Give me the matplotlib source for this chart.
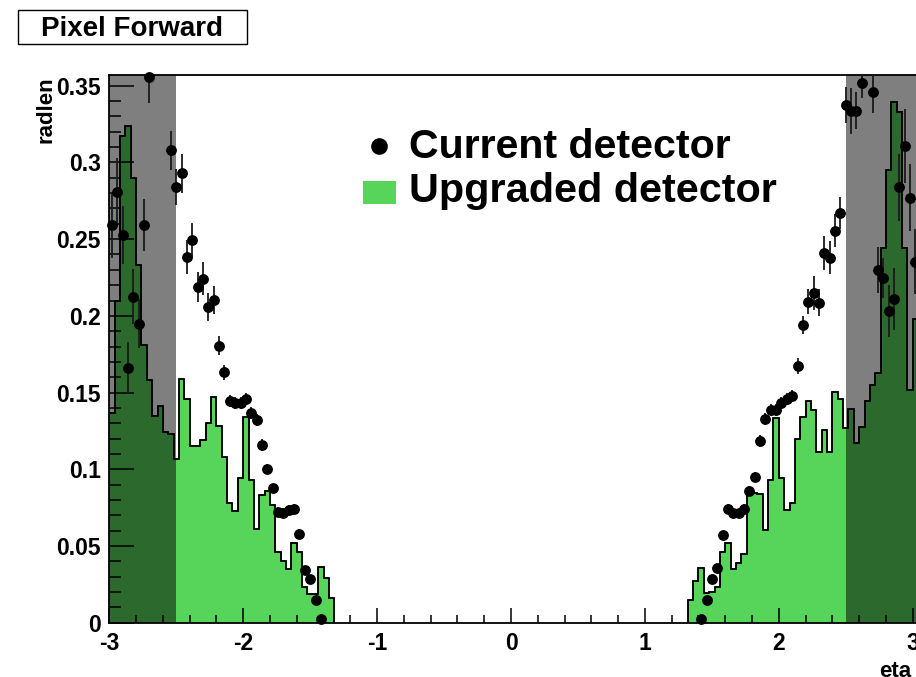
import numpy as np
import matplotlib
matplotlib.use('Agg')
import matplotlib.pyplot as plt
from matplotlib.patches import Rectangle
from matplotlib.ticker import MultipleLocator, FuncFormatter

plt.rcParams['font.family'] = ['Liberation Sans', 'DejaVu Sans']
plt.rcParams['font.weight'] = 'bold'

# material budget per 0.04 eta bin, upgraded layout (negative and positive side)
bin_w = 0.04
upg_lo_start = -3.0
upg_lo = [0.137, 0.210, 0.317, 0.324, 0.290, 0.233, 0.181, 0.158, 0.135, 0.141,
          0.1245, 0.123, 0.107, 0.159, 0.146, 0.115, 0.115, 0.119, 0.130, 0.147,
          0.128, 0.108, 0.078, 0.073, 0.094, 0.134, 0.093, 0.061, 0.083, 0.086,
          0.077, 0.046, 0.040, 0.035, 0.052, 0.046, 0.023, 0.0185, 0.0185, 0.0365,
          0.029, 0.016]
upg_hi_start = 1.32
upg_hi = [0.0148, 0.0274, 0.0359, 0.0191, 0.0200, 0.0235, 0.0459, 0.0517, 0.0348, 0.0387,
          0.0446, 0.0850, 0.0848, 0.0839, 0.0604, 0.0928, 0.1332, 0.0946, 0.0734, 0.0780,
          0.1195, 0.1343, 0.1446, 0.1385, 0.1112, 0.1254, 0.1115, 0.1506, 0.1456, 0.1266,
          0.1390, 0.1173, 0.1278, 0.1447, 0.155, 0.1626, 0.244, 0.295, 0.3397, 0.333,
          0.244, 0.152, 0.198]

# current detector, bin centres -2.98 .. -1.42 and 1.42 .. 3.02 (nan = off scale)
cur_lo = [0.259, 0.281, 0.2527, 0.166, 0.2125, 0.195, 0.259, 0.3555, np.nan, np.nan,
          np.nan, 0.308, 0.284, 0.293, 0.2386, 0.2495, 0.2188, 0.2243, 0.2056, 0.2104,
          0.1806, 0.1632, 0.1447, 0.1434, 0.1434, 0.1456, 0.1365, 0.1321, 0.1158, 0.1004,
          0.0876, 0.0724, 0.0717, 0.0735, 0.0741, 0.058, 0.0344, 0.0283, 0.0148, 0.0022]
cur_lo_err = [0.021, 0.022, 0.019, 0.017, 0.018, 0.016, 0.017, 0.0165, np.nan, np.nan,
              np.nan, 0.0126, 0.012, 0.0128, 0.011, 0.011, 0.010, 0.011, 0.009, 0.009,
              0.006, 0.005, 0.004, 0.004, 0.004, 0.004, 0.004, 0.004, 0.004, 0.003,
              0.003, 0.003, 0.003, 0.003, 0.003, 0.003, 0.002, 0.002, 0.002, 0.001]
cur_hi = [0.0022, 0.0148, 0.0283, 0.0359, 0.057, 0.0741, 0.0717, 0.0713, 0.0741, 0.0859,
          0.0952, 0.1185, 0.1328, 0.1387, 0.1387, 0.1434, 0.1456, 0.148, 0.1673, 0.194,
          0.2093, 0.2147, 0.2086, 0.2408, 0.238, 0.2556, 0.2673, 0.3375, 0.3338, 0.3338,
          0.352, np.nan, 0.3462, 0.230, 0.2245, 0.2034, 0.211, 0.2838, 0.3108, 0.277,
          0.2353]
cur_hi_err = [0.001, 0.002, 0.002, 0.002, 0.003, 0.003, 0.003, 0.003, 0.003, 0.003,
              0.003, 0.004, 0.004, 0.004, 0.004, 0.004, 0.004, 0.004, 0.005, 0.006,
              0.008, 0.011, 0.009, 0.011, 0.011, 0.011, 0.0105, 0.012, 0.015, 0.012,
              0.010, np.nan, 0.014, 0.015, 0.013, 0.017, 0.020, 0.022, 0.024, 0.022,
              0.021]

xticks = [-3, -2, -1, 0, 1, 2, 3]
yticks = [0, 0.05, 0.1, 0.15, 0.2, 0.25, 0.3, 0.35]

green = '#57d45a'
W, H = 916, 677


def fx(px):
    return px / W


def fy(py):
    return 1 - py / H


fig = plt.figure(figsize=(W / 100, H / 100), dpi=100)
ax = fig.add_axes([fx(109.3), fy(622.7), 830.2 / W, 547.7 / H])

edges_lo = upg_lo_start + bin_w * np.arange(len(upg_lo) + 1)
edges_hi = upg_hi_start + bin_w * np.arange(len(upg_hi) + 1)
for vals, edges in [(upg_lo, edges_lo), (upg_hi, edges_hi)]:
    ax.stairs(vals, edges, fill=True, facecolor=green, edgecolor='black',
              linewidth=1.1, zorder=1)
    ax.stairs(vals, edges, fill=False, color='black', linewidth=1.1, zorder=1.1)

# forward regions shaded
ax.axvspan(-3.0, -2.5, color='black', alpha=0.5, lw=0, zorder=2)
ax.axvspan(2.5, 3.2, color='black', alpha=0.5, lw=0, zorder=2)

eta_lo = np.linspace(-2.98, -1.42, len(cur_lo))
eta_hi = np.linspace(1.42, 3.02, len(cur_hi))
for eta, val, err in [(eta_lo, cur_lo, cur_lo_err), (eta_hi, cur_hi, cur_hi_err)]:
    ax.errorbar(eta, val, yerr=err, fmt='none', ecolor='#1a1a1a',
                elinewidth=1.3, capsize=0, zorder=3)
    ax.plot(eta, val, 'o', color='black', ms=7.8, mew=0, zorder=4, clip_on=False)

ax.set_xlim(-3.0, 3.2)
ax.set_ylim(0, 0.357)
ax.set_xticks(xticks)
ax.set_yticks(yticks)
ax.xaxis.set_minor_locator(MultipleLocator(0.2))
ax.yaxis.set_minor_locator(MultipleLocator(0.01))
fmt = FuncFormatter(lambda v, p: '%g' % v)
ax.xaxis.set_major_formatter(fmt)
ax.yaxis.set_major_formatter(fmt)
ax.tick_params(which='both', direction='in', width=1.1, labelsize=16.5)
ax.tick_params(axis='y', which='major', length=18, pad=6)
ax.tick_params(axis='y', which='minor', length=8.5)
ax.tick_params(axis='x', which='major', length=11, pad=6.5)
ax.tick_params(axis='x', which='minor', length=5.8)
for s in ax.spines.values():
    s.set_linewidth(1.3)

fig.text(fx(46), fy(76), 'radlen', rotation=90, ha='center', va='top',
         fontsize=16, fontweight='bold')
fig.text(fx(879), fy(661), 'eta', ha='left', va='top',
         fontsize=16, fontweight='bold')

# title box
fig.patches.append(Rectangle((fx(17.5), fy(44.3)), (246.7 - 17.5) / W, 34.3 / H,
                             transform=fig.transFigure, facecolor='white',
                             edgecolor='black', linewidth=1.0))
fig.text(fx(132), fy(28.5), 'Pixel Forward', ha='center', va='center',
         fontsize=20, fontweight='bold')

# legend
fig.lines.append(plt.Line2D([fx(379)], [fy(146)], marker='o', color='black',
                            ms=12, mew=0, transform=fig.transFigure))
fig.patches.append(Rectangle((fx(362.7), fy(204)), 33 / W, 23 / H,
                             transform=fig.transFigure, facecolor=green,
                             edgecolor='none'))
fig.text(fx(409), fy(158.3), 'Current detector', ha='left', va='baseline',
         fontsize=29.6, fontweight='bold')
fig.text(fx(409), fy(202.3), 'Upgraded detector', ha='left', va='baseline',
         fontsize=29.8, fontweight='bold')

fig.savefig('out.png', dpi=100)
